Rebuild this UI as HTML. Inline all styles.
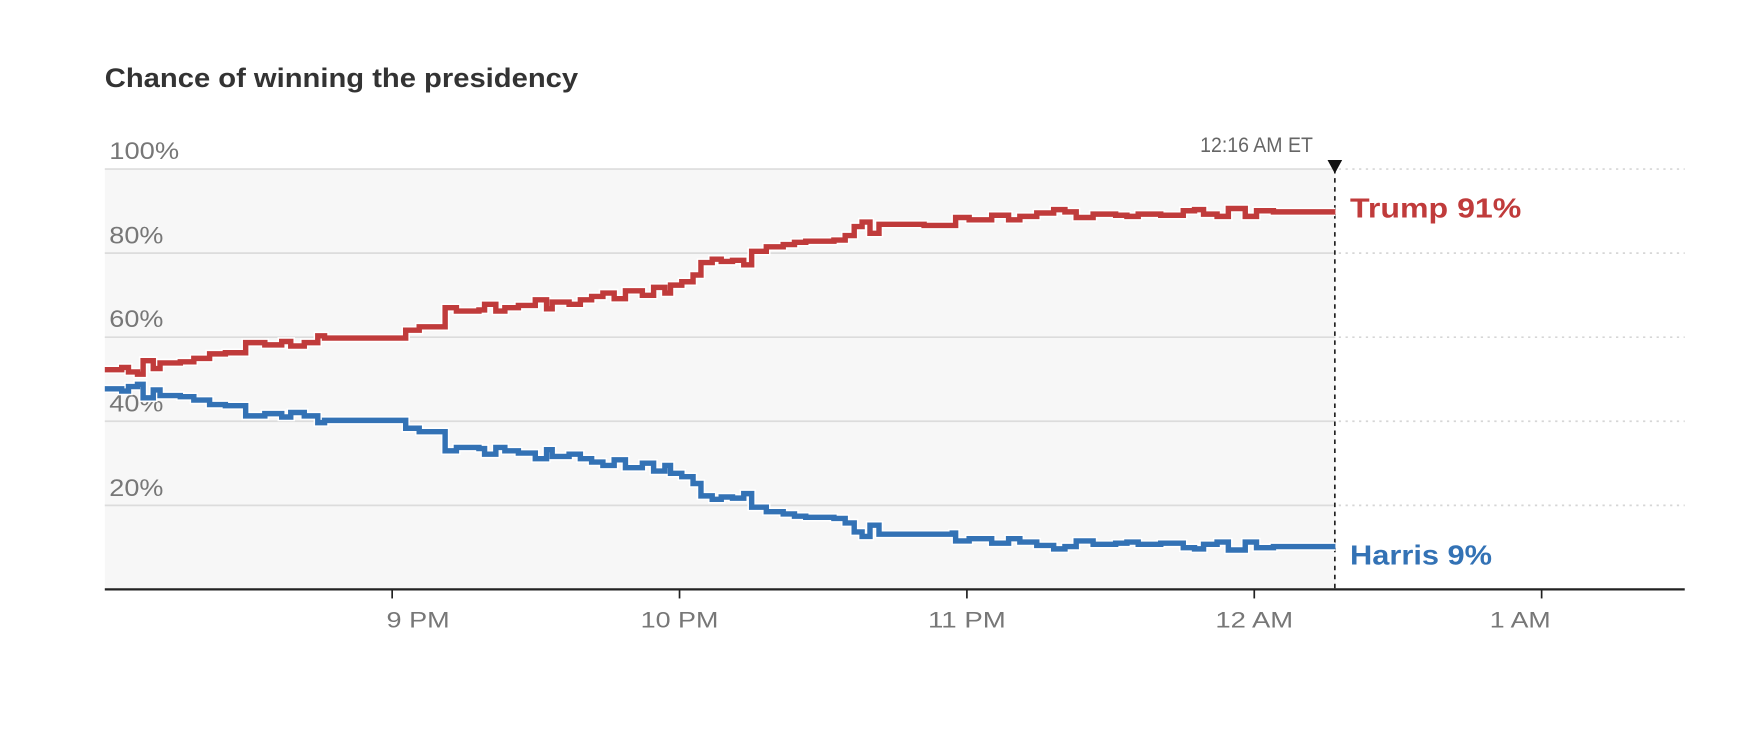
<!DOCTYPE html>
<html><head><meta charset="utf-8"><style>
html,body{margin:0;padding:0;background:#fff;}
svg{display:block;}
text{font-family:"Liberation Sans",sans-serif;}
</style></head><body>
<svg width="1758" height="740" viewBox="0 0 1560 656.6" preserveAspectRatio="none" xmlns="http://www.w3.org/2000/svg">
<rect x="0" y="0" width="1560" height="656.6" fill="#fff"/>
<text x="93" y="77" font-size="24" font-weight="bold" fill="#333" textLength="420" lengthAdjust="spacingAndGlyphs">Chance of winning the presidency</text>
<rect x="93" y="150" width="1092" height="373" fill="#f7f7f7"/>
<g stroke="#dcdcdc" stroke-width="1.5">
<line x1="93" y1="150" x2="1185" y2="150"/>
<line x1="93" y1="224.6" x2="1185" y2="224.6"/>
<line x1="93" y1="299.2" x2="1185" y2="299.2"/>
<line x1="93" y1="373.8" x2="1185" y2="373.8"/>
<line x1="93" y1="448.4" x2="1185" y2="448.4"/>
</g>
<g stroke="#d6d6d6" stroke-width="1.5" stroke-dasharray="2,4">
<line x1="1188" y1="150" x2="1495" y2="150"/>
<line x1="1188" y1="224.6" x2="1495" y2="224.6"/>
<line x1="1188" y1="299.2" x2="1495" y2="299.2"/>
<line x1="1188" y1="373.8" x2="1495" y2="373.8"/>
<line x1="1188" y1="448.4" x2="1495" y2="448.4"/>
</g>
<g font-size="21" fill="#777">
<text x="97" y="141" textLength="62" lengthAdjust="spacingAndGlyphs">100%</text>
<text x="97" y="216" textLength="48" lengthAdjust="spacingAndGlyphs">80%</text>
<text x="97" y="290" textLength="48" lengthAdjust="spacingAndGlyphs">60%</text>
<text x="97" y="365" textLength="48" lengthAdjust="spacingAndGlyphs">40%</text>
<text x="97" y="440" textLength="48" lengthAdjust="spacingAndGlyphs">20%</text>
</g>
<line x1="93" y1="523" x2="1495" y2="523" stroke="#222" stroke-width="2"/>
<g stroke="#222" stroke-width="1.5">
<line x1="348" y1="523" x2="348" y2="531"/>
<line x1="603" y1="523" x2="603" y2="531"/>
<line x1="858" y1="523" x2="858" y2="531"/>
<line x1="1113" y1="523" x2="1113" y2="531"/>
<line x1="1368" y1="523" x2="1368" y2="531"/>
</g>
<g font-size="20" fill="#777" text-anchor="middle">
<text x="371" y="557" textLength="56" lengthAdjust="spacingAndGlyphs">9 PM</text>
<text x="603" y="557" textLength="69" lengthAdjust="spacingAndGlyphs">10 PM</text>
<text x="858" y="557" textLength="69" lengthAdjust="spacingAndGlyphs">11 PM</text>
<text x="1113" y="557" textLength="69" lengthAdjust="spacingAndGlyphs">12 AM</text>
<text x="1349" y="557" textLength="54" lengthAdjust="spacingAndGlyphs">1 AM</text>
</g>
<line x1="1184.5" y1="150" x2="1184.5" y2="523" stroke="#222" stroke-width="1.5" stroke-dasharray="4,4"/>
<polygon points="1178,142 1191,142 1184.5,154" fill="#111"/>
<text x="1115" y="135" font-size="19" fill="#666" text-anchor="middle" textLength="100" lengthAdjust="spacingAndGlyphs">12:16 AM ET</text>
<g fill="none" stroke-linejoin="miter">
<path d="M93,328 H108 V326 H114 V330 H122 V332 H127 V320 H136 V327 H142 V322 H160 V321 H172 V318 H186 V314 H200 V313 H218 V304 H235 V306 H250 V303 H258 V307 H270 V304 H282 V298 H288 V300 H360 V293 H372 V290 H395 V273 H405 V276 H425 V275 H430 V270 H440 V276 H448 V273 H460 V271 H475 V266 H485 V274 H490 V268 H505 V270 H515 V266 H525 V263 H535 V260 H545 V265 H555 V258 H570 V262 H580 V255 H590 V260 H595 V253 H605 V250 H615 V244 H622 V233 H632 V230 H640 V232 H650 V231 H660 V235 H667 V223 H680 V219 H695 V217 H705 V215 H715 V214 H740 V213 H750 V209 H758 V201 H765 V197 H772 V207 H780 V199 H820 V200 H845 V200 H848 V193 H860 V195 H880 V191 H895 V195 H905 V192 H920 V189 H935 V186 H945 V188 H955 V193 H970 V190 H990 V191 H1000 V192 H1010 V190 H1030 V191 H1050 V187 H1060 V186 H1068 V190 H1080 V192 H1090 V185 H1105 V192 H1115 V187 H1130 V188 H1185" stroke="#fff" stroke-width="7.5"/>
<path d="M93,328 H108 V326 H114 V330 H122 V332 H127 V320 H136 V327 H142 V322 H160 V321 H172 V318 H186 V314 H200 V313 H218 V304 H235 V306 H250 V303 H258 V307 H270 V304 H282 V298 H288 V300 H360 V293 H372 V290 H395 V273 H405 V276 H425 V275 H430 V270 H440 V276 H448 V273 H460 V271 H475 V266 H485 V274 H490 V268 H505 V270 H515 V266 H525 V263 H535 V260 H545 V265 H555 V258 H570 V262 H580 V255 H590 V260 H595 V253 H605 V250 H615 V244 H622 V233 H632 V230 H640 V232 H650 V231 H660 V235 H667 V223 H680 V219 H695 V217 H705 V215 H715 V214 H740 V213 H750 V209 H758 V201 H765 V197 H772 V207 H780 V199 H820 V200 H845 V200 H848 V193 H860 V195 H880 V191 H895 V195 H905 V192 H920 V189 H935 V186 H945 V188 H955 V193 H970 V190 H990 V191 H1000 V192 H1010 V190 H1030 V191 H1050 V187 H1060 V186 H1068 V190 H1080 V192 H1090 V185 H1105 V192 H1115 V187 H1130 V188 H1185" stroke="#c03b3b" stroke-width="4.8"/>
<path d="M93,345 H108 V347 H114 V343 H122 V341 H127 V353 H136 V346 H142 V351 H160 V352 H172 V355 H186 V359 H200 V360 H218 V369 H235 V367 H250 V370 H258 V366 H270 V369 H282 V375 H288 V373 H360 V380 H372 V383 H395 V400 H405 V397 H425 V398 H430 V403 H440 V397 H448 V400 H460 V402 H475 V407 H485 V399 H490 V405 H505 V403 H515 V407 H525 V410 H535 V413 H545 V408 H555 V415 H570 V411 H580 V418 H590 V413 H595 V420 H605 V423 H615 V429 H622 V440 H632 V443 H640 V441 H650 V442 H660 V438 H667 V450 H680 V454 H695 V456 H705 V458 H715 V459 H740 V460 H750 V464 H758 V472 H765 V476 H772 V466 H780 V474 H845 V473 H848 V480 H860 V478 H880 V482 H895 V478 H905 V481 H920 V484 H935 V487 H945 V485 H955 V480 H970 V483 H990 V482 H1000 V481 H1010 V483 H1030 V482 H1050 V486 H1060 V487 H1068 V483 H1080 V481 H1090 V488 H1105 V481 H1115 V486 H1130 V485 H1185" stroke="#fff" stroke-width="7.5"/>
<path d="M93,345 H108 V347 H114 V343 H122 V341 H127 V353 H136 V346 H142 V351 H160 V352 H172 V355 H186 V359 H200 V360 H218 V369 H235 V367 H250 V370 H258 V366 H270 V369 H282 V375 H288 V373 H360 V380 H372 V383 H395 V400 H405 V397 H425 V398 H430 V403 H440 V397 H448 V400 H460 V402 H475 V407 H485 V399 H490 V405 H505 V403 H515 V407 H525 V410 H535 V413 H545 V408 H555 V415 H570 V411 H580 V418 H590 V413 H595 V420 H605 V423 H615 V429 H622 V440 H632 V443 H640 V441 H650 V442 H660 V438 H667 V450 H680 V454 H695 V456 H705 V458 H715 V459 H740 V460 H750 V464 H758 V472 H765 V476 H772 V466 H780 V474 H845 V473 H848 V480 H860 V478 H880 V482 H895 V478 H905 V481 H920 V484 H935 V487 H945 V485 H955 V480 H970 V483 H990 V482 H1000 V481 H1010 V483 H1030 V482 H1050 V486 H1060 V487 H1068 V483 H1080 V481 H1090 V488 H1105 V481 H1115 V486 H1130 V485 H1185" stroke="#3372b5" stroke-width="4.8"/>
</g>
<text x="1198" y="193" font-size="25" font-weight="bold" fill="#c03b3b" textLength="152" lengthAdjust="spacingAndGlyphs">Trump 91%</text>
<text x="1198" y="501" font-size="25" font-weight="bold" fill="#3372b5" textLength="126" lengthAdjust="spacingAndGlyphs">Harris 9%</text>
</svg>
</body></html>
